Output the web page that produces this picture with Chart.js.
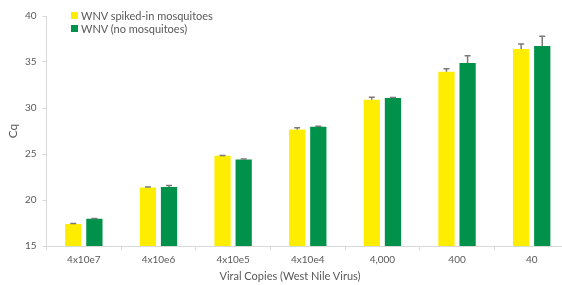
<!DOCTYPE html>
<html>
<head>
<meta charset="utf-8">
<script src="https://cdn.jsdelivr.net/npm/chart.js@4/dist/chart.umd.min.js"></script>
<style>
    body { margin: 0; overflow: hidden; background: #fff; font-family: Lato, "Noto Sans", sans-serif; }
    #wrap { position: relative; width: 571px; height: 285px; }
    .legend { position: absolute; left: 71px; top: 9px; font-size: 11px; color: #595959; line-height: 13px; }
    .legend div { display: flex; align-items: center; }
    .legend span { display: inline-block; width: 7px; height: 7px; margin-right: 3px; }
    .xtitle { position: absolute; left: 190px; width: 200px; top: 269px; text-align: center; font-size: 11px; color: #595959; }
</style>
</head>
<body>
<div id="wrap">
    <canvas id="grafico" width="571" height="285"></canvas>
    <div class="legend">
        <div><span style="background:#FFED00"></span>WNV spiked-in mosquitoes</div>
        <div><span style="background:#00924A"></span>WNV (no mosquitoes)</div>
    </div>
    <div class="xtitle">Viral Copies (West Nile Virus)</div>
</div>
<script>
// Dados
var categorias = ["4x10e7", "4x10e6", "4x10e5", "4x10e4", "4,000", "400", "40"];
var comMosquitos = [17.4, 21.35, 24.8, 27.65, 30.9, 33.95, 36.4];
var semMosquitos = [17.95, 21.4, 24.4, 27.97, 31.08, 34.9, 36.75];
var erroComMosquitos = [0.05, 0.05, 0.05, 0.2, 0.28, 0.32, 0.55];
var erroSemMosquitos = [0.05, 0.18, 0.05, 0.05, 0.07, 0.78, 1.05];
var ticksY = [15, 20, 25, 30, 35, 40];

// Plugin simples para as barras de erro (só para cima)
var barrasErro = {
    id: "barrasErro",
    afterDatasetsDraw: function (chart) {
        var ctx = chart.ctx;
        var y = chart.scales.y;
        ctx.save();
        ctx.strokeStyle = "#7a7a7a";
        ctx.lineWidth = 1.5;
        chart.data.datasets.forEach(function (ds, i) {
            var meta = chart.getDatasetMeta(i);
            meta.data.forEach(function (bar, j) {
                var topo = y.getPixelForValue(ds.data[j]);
                var fim = y.getPixelForValue(ds.data[j] + ds.erros[j]);
                ctx.beginPath();
                ctx.moveTo(bar.x, topo);
                ctx.lineTo(bar.x, fim);
                ctx.moveTo(bar.x - 3, fim);
                ctx.lineTo(bar.x + 3, fim);
                ctx.stroke();
            });
        });
        ctx.restore();
    }
};

function setupChart() {
    var el = document.getElementById("grafico");
    new Chart(el, {
        type: "bar",
        data: {
            labels: categorias,
            datasets: [{
                label: "WNV spiked-in mosquitoes",
                data: comMosquitos,
                erros: erroComMosquitos,
                backgroundColor: "#FFED00",
                categoryPercentage: 0.566,
                barPercentage: 0.77,
            }, {
                label: "WNV (no mosquitoes)",
                data: semMosquitos,
                erros: erroSemMosquitos,
                backgroundColor: "#00924A",
                categoryPercentage: 0.566,
                barPercentage: 0.77,
            }],
        },
        options: {
            responsive: false,
            animation: false,
            layout: { padding: { top: 16, right: 2, left: 0, bottom: 0 } },
            plugins: { legend: { display: false }, tooltip: { enabled: false } },
            scales: {
                x: {
                    grid: { display: true, drawOnChartArea: false, color: "#d9d9d9", tickLength: 4, offset: true },
                    border: { color: "#d9d9d9" },
                    ticks: { color: "#595959", font: { family: "Lato", size: 10 }, padding: 4 },
                    afterFit: function (s) { s.height = 39; },
                },
                y: {
                    min: 15,
                    max: 40,
                    afterBuildTicks: function (s) { s.ticks = ticksY.map(function (v) { return { value: v }; }); },
                    grid: { display: true, drawOnChartArea: false, color: "#d9d9d9", tickLength: 4 },
                    border: { color: "#d9d9d9" },
                    ticks: { color: "#595959", font: { family: "Lato", size: 10 }, padding: 6 },
                    title: { display: true, text: "Cq", color: "#595959", font: { family: "Lato", size: 12 }, padding: { top: 6, bottom: 4 } },
                    afterFit: function (s) { s.width = 46.5; },
                },
            },
        },
        plugins: [barrasErro],
    });
}

window.addEventListener("load", setupChart);
</script>
</body>
</html>
